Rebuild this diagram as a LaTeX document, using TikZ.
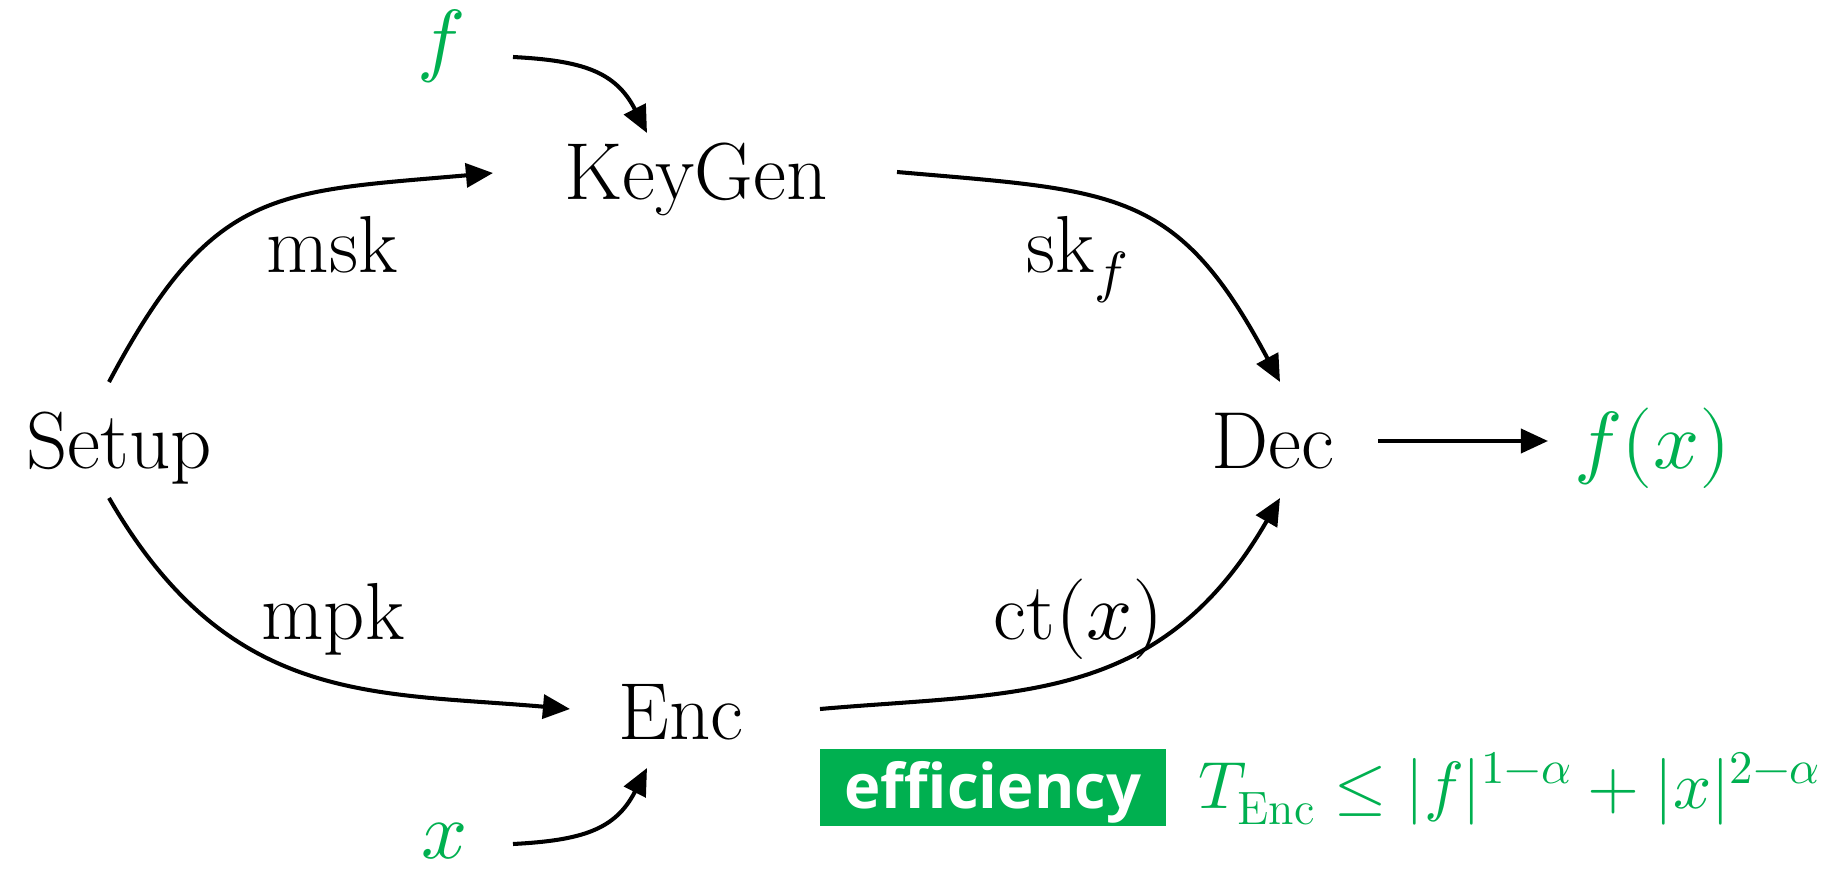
\documentclass[tikz,border=0pt]{standalone}
\usepackage{amsmath}
\usepackage{fontspec}
\usepackage{unicode-math}
\newfontfamily\boxfont{Open Sans}
\usetikzlibrary{arrows.meta}
\definecolor{effgreen}{HTML}{00B050}
\tikzset{
  algo/.style={anchor=base,inner sep=0pt,font=\fontsize{23}{27}\selectfont},
  var/.style={algo,text=effgreen},
  wire/.style={line width=1.15pt,-{Triangle[length=7.7pt,width=6.8pt]}},
}

\begin{document}
\begin{tikzpicture}[x=0.01cm,y=0.01cm]
\useasboundingbox (0,0) rectangle (1836,-873);
% algorithms
\node[algo] (setup) at (119,-468) {Setup};
\node[algo] (keygen) at (696,-200) {KeyGen};
\node[algo] (enc) at (681,-739) {Enc};
\node[algo] (dec) at (1273,-468) {Dec};
% inputs and output
\node[var] (fin) at (441,-67) {$f$};
\node[var] (xin) at (445,-858) {$x$};
\node[var] (fx) at (1653,-468) {$f(x)$};
% keys on the wires
\node[algo] (msk) at (332,-273) {msk};
\node[algo] (skf) at (1078,-272) {sk$_f$};
\node[algo] (mpk) at (333,-639) {mpk};
\node[algo] (ctx) at (1079,-639) {ct$(x)$};
% wires
\draw[wire] ([shift={(-10,86)}]setup.base) to[out=62,in=185,looseness=1.29] ([shift={(-203,27)}]keygen.base);
\draw[wire] ([shift={(-10,-30)}]setup.base) to[out=-60,in=175,out looseness=1.21,in looseness=1] ([shift={(-111,30)}]enc.base);
\draw[wire] ([shift={(201,28)}]keygen.base) to[out=-5,in=118,looseness=1.29] ([shift={(7,86)}]dec.base);
\draw[wire] ([shift={(139,30)}]enc.base) to[out=5,in=-120,out looseness=1,in looseness=1.21] ([shift={(7,-30)}]dec.base);
\draw[wire] ([shift={(72,10)}]fin.base) to[out=-3,in=117,looseness=1.15] ([shift={(-49,67)}]keygen.base);
\draw[wire] ([shift={(68,14)}]xin.base) to[out=3,in=-117,looseness=1.15] ([shift={(-34,-29)}]enc.base);
\draw[wire] ([shift={(105,27)}]dec.base) -- ([shift={(-105,27)}]fx.base);
% efficiency
\node[fill=effgreen,text=white,anchor=north west,inner sep=0pt,minimum width=3.46cm,text height=0.6cm,text depth=0.17cm,font=\boxfont\bfseries\fontsize{17.5}{20}\selectfont] (eff) at (819,-748) {efficiency};
\node[var,anchor=base west,font=\fontsize{19}{23}\selectfont] (cost) at (1198,-808) {$T_{\mathrm{Enc}} \le |f|^{1-\alpha} + |x|^{2-\alpha}$};
\end{tikzpicture}
\end{document}
